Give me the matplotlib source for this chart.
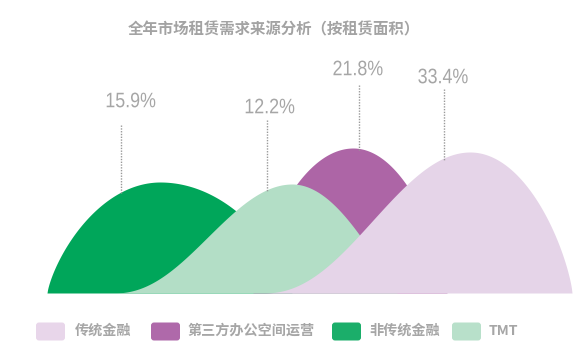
import numpy as np
import matplotlib.pyplot as plt
from matplotlib.patches import FancyBboxPatch, PathPatch
from matplotlib.textpath import TextPath
from matplotlib.font_manager import FontProperties
from matplotlib.transforms import Affine2D

plt.rcParams['font.family'] = ['Noto Sans CJK SC', 'DejaVu Sans']

categories = ['传统金融', '第三方办公空间运营', '非传统金融', 'TMT']
shares = [33.4, 21.8, 15.9, 12.2]
fill_colors = ['#E5D4E8', '#AD65A6', '#00A65A', '#B3DEC6']
legend_colors = ['#E8D6EA', '#AF69AA', '#1BAE6A', '#B8E0CA']
title = '全年市场租赁需求来源分析（按租赁面积）'

# layout in pixels from top-left, baseline of the humps at y=293
base = 293
# hump: left foot, peak x, right foot, height, left edge, right edge
humps = {
    '非传统金融': (47, 160, 292, 111, 'dome', 'dome'),
    '第三方办公空间运营': (253, 353, 447, 145, 'dome', 'dome'),
    'TMT': (113, 292, 397, 109, 'S', 'cos'),
    '传统金融': (263, 470, 572, 141, 'S', 'dome'),
}
draw_order = ['非传统金融', '第三方办公空间运营', 'TMT', '传统金融']
# label centre x, y, leader x, leader top
label_pos = {'非传统金融': (131, 100, 121, 125),
             'TMT': (270, 106, 267, 120),
             '第三方办公空间运营': (358, 68, 359, 85),
             '传统金融': (443, 76, 444, 89)}


def edge(u, kind):
    # u = 0 at the peak, 1 at the foot
    if kind == 'S':
        return ((1 + np.cos(np.pi * u)) / 2) ** 1.1
    if kind == 'cos':
        return np.cos(np.pi / 2 * u)
    return np.clip(1 - u ** 2, 0, 1) ** 0.75


def hump_curve(x0, xp, x1, h, lk, rk):
    xl = np.linspace(x0, xp, 200)
    xr = np.linspace(xp, x1, 200)
    yl = h * edge((xp - xl) / (xp - x0), lk)
    yr = h * edge((xr - xp) / (x1 - xp), rk)
    return np.concatenate([xl, xr]), np.concatenate([yl, yr])


def narrow_text(ax, cx, cy, s, em=21, squeeze=0.85, color='#A6A6A6'):
    # condensed look: squeeze a Liberation Sans outline horizontally
    tp = TextPath((0, 0), s, size=em, prop=FontProperties(family='Liberation Sans'))
    ext = tp.get_extents()
    tr = Affine2D().translate(-(ext.x0 + ext.x1) / 2, -(ext.y0 + ext.y1) / 2) \
        .scale(squeeze, 1).translate(cx, cy)
    ax.add_patch(PathPatch(tr.transform_path(tp), color=color, lw=0, zorder=11))


fig = plt.figure(figsize=(5.88, 3.57), dpi=100)
ax = fig.add_axes([0, 0, 1, 1])
ax.set_xlim(0, 588)
ax.set_ylim(base - 357, base)
ax.axis('off')

for i, name in enumerate(draw_order):
    k = categories.index(name)
    x, y = hump_curve(*humps[name])
    ax.fill_between(x, 0, y, color=fill_colors[k], lw=0, zorder=2 + i)

for name, (lx, ly, vx, vtop) in label_pos.items():
    k = categories.index(name)
    x, y = hump_curve(*humps[name])
    ytop = np.interp(vx, x, y)
    ax.plot([vx, vx], [base - vtop, ytop - 2], color='#9A9A9A', lw=1,
            ls=(0, (1, 1)), zorder=10)
    narrow_text(ax, lx, base - ly, f'{shares[k]:.1f}%')

ax.text(274, base - 29, title, ha='center', va='center', fontsize=11.1,
        fontweight='bold', color='#A3A3A3')

# legend
patch_x = [36, 151, 332, 452]
text_x = [75, 188, 369, 489]
for k in range(len(categories)):
    ax.add_patch(FancyBboxPatch((patch_x[k] + 3, base - 331.5 - 6), 23, 12,
                                boxstyle='round,pad=3', color=legend_colors[k],
                                lw=0))
    ax.text(text_x[k], base - 331, categories[k], ha='left', va='center',
            fontsize=10.2, fontweight='bold', color='#A6A6A6')

fig.savefig('out.png', dpi=100)
